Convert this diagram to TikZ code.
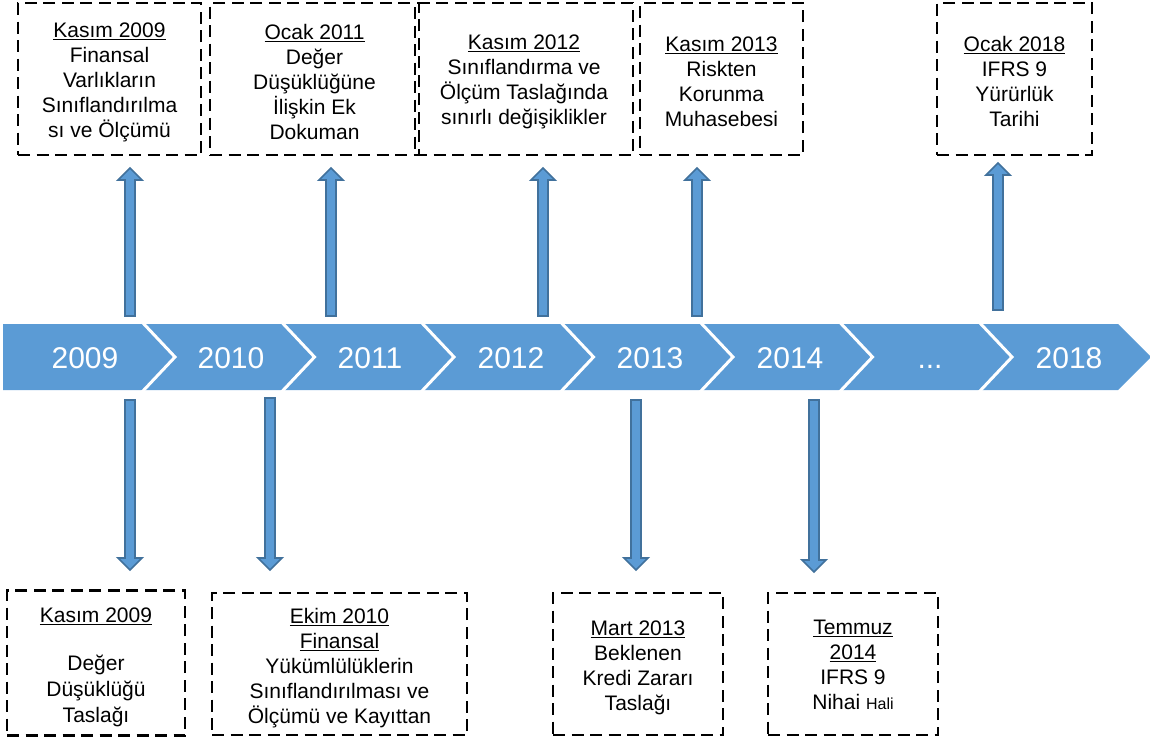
\documentclass[tikz,border=0pt]{standalone}
\usepackage{fontspec}
\setmainfont{Liberation Sans}
\usetikzlibrary{calc}
\definecolor{tlblue}{RGB}{91,155,213}
\definecolor{tledge}{RGB}{65,113,156}
\newcommand\varrow[2]{%
  \draw[barrow] let \p1=(#1), \p2=($(#2)!12pt!(#1)$), \p3=(#2) in
  (\x1-5pt,\y1) -- (\x1-5pt,\y2) -- (\x1-12pt,\y2) -- (\x3,\y3) -- (\x1+12pt,\y2) -- (\x1+5pt,\y2) -- (\x1+5pt,\y1) -- cycle;}
\newcommand\dn[1]{\rule{0pt}{#1}}
\begin{document}
\begin{tikzpicture}[x=1pt,y=-1pt,
  evbox/.style={draw=black, line width=2.4pt, dash pattern=on 12pt off 6.5pt, inner sep=0pt, align=center, font=\fontsize{21}{25}\selectfont},
  yearlbl/.style={text=white, font=\fontsize{30}{36}\selectfont, text height=22pt, text depth=0pt, inner sep=0pt},
  sep/.style={draw=white, line width=3pt},
  barrow/.style={fill=tlblue, draw=tledge, line width=1.7pt, line join=miter}]
\useasboundingbox (0,0) rectangle (1150,744);

% timeline band
\fill[tlblue] (3,324) -- (1118,324) -- (1151,357) -- (1118,390) -- (3,390) -- cycle;
\foreach \b in {142,281.5,421,560.5,700,839.5,979}
  \draw[sep] (\b,322) -- (\b+33,357) -- (\b,392);

\node[yearlbl] (y2009) at (85,357) {2009};
\node[yearlbl] (y2010) at (231,357) {2010};
\node[yearlbl] (y2011) at (370,357) {2011};
\node[yearlbl] (y2012) at (511,357) {2012};
\node[yearlbl] (y2013) at (650,357) {2013};
\node[yearlbl] (y2014) at (790,357) {2014};
\node[yearlbl] (ydots) at (930,357) {...};
\node[yearlbl] (y2018) at (1069,357) {2018};

% top boxes
\node[evbox, minimum width=183, minimum height=152] (t1) at (109.5,79)
  {\dn{21pt}\underline{Kasım 2009}\\Finansal\\Varlıkların\\Sınıflandırılma\\sı ve Ölçümü};
\node[evbox, minimum width=209, minimum height=152] (t2) at (314.5,79)
  {\dn{21pt}\underline{Ocak 2011}\\Değer\\Düşüklüğüne\\İlişkin Ek\\Dokuman};
\node[evbox, minimum width=218, minimum height=152] (t3) at (524,79)
  {\dn{21pt}\underline{Kasım 2012}\\Sınıflandırma ve\\Ölçüm Taslağında\\sınırlı değişiklikler};
\node[evbox, minimum width=163, minimum height=152] (t4) at (721.5,79)
  {\dn{21pt}\underline{Kasım 2013}\\Riskten\\Korunma\\Muhasebesi};
\node[evbox, minimum width=155, minimum height=152] (t5) at (1014.5,79)
  {\dn{21pt}\underline{Ocak 2018}\\IFRS 9\\Yürürlük\\Tarihi};

% bottom boxes
\node[evbox, minimum width=178, minimum height=145] (b1) at (96,663)
  {\dn{23pt}\underline{Kasım 2009}\\[23pt]Değer\\[1pt]Düşüklüğü\\[1pt]Taslağı};
\node[evbox, minimum width=255, minimum height=142] (b2) at (339.5,664)
  {\dn{24pt}\underline{Ekim 2010}\\\underline{Finansal}\\Yükümlülüklerin\\Sınıflandırılması ve\\Ölçümü ve Kayıttan};
\node[evbox, minimum width=170, minimum height=142] (b3) at (638,664)
  {\dn{23pt}\underline{Mart 2013}\\Beklenen\\Kredi Zararı\\Taslağı};
\node[evbox, minimum width=170, minimum height=142] (b4) at (853,664)
  {\dn{17pt}\underline{Temmuz}\\\underline{2014}\\IFRS 9\\Nihai {\fontsize{16}{25}\selectfont Hali}};

% arrow end points
\coordinate (u1s) at (130,316); \coordinate (u1e) at (130,168);
\coordinate (u2s) at (331,316); \coordinate (u2e) at (331,168);
\coordinate (u3s) at (543,316); \coordinate (u3e) at (543,168);
\coordinate (u4s) at (697,316); \coordinate (u4e) at (697,168);
\coordinate (u5s) at (998,310); \coordinate (u5e) at (998,163);
\coordinate (d1s) at (130,400); \coordinate (d1e) at (130,570);
\coordinate (d2s) at (270,398); \coordinate (d2e) at (270,570);
\coordinate (d3s) at (636,400); \coordinate (d3e) at (636,570);
\coordinate (d4s) at (814,400); \coordinate (d4e) at (814,572);

\varrow{u1s}{u1e}
\varrow{u2s}{u2e}
\varrow{u3s}{u3e}
\varrow{u4s}{u4e}
\varrow{u5s}{u5e}
\varrow{d1s}{d1e}
\varrow{d2s}{d2e}
\varrow{d3s}{d3e}
\varrow{d4s}{d4e}
\end{tikzpicture}
\end{document}
